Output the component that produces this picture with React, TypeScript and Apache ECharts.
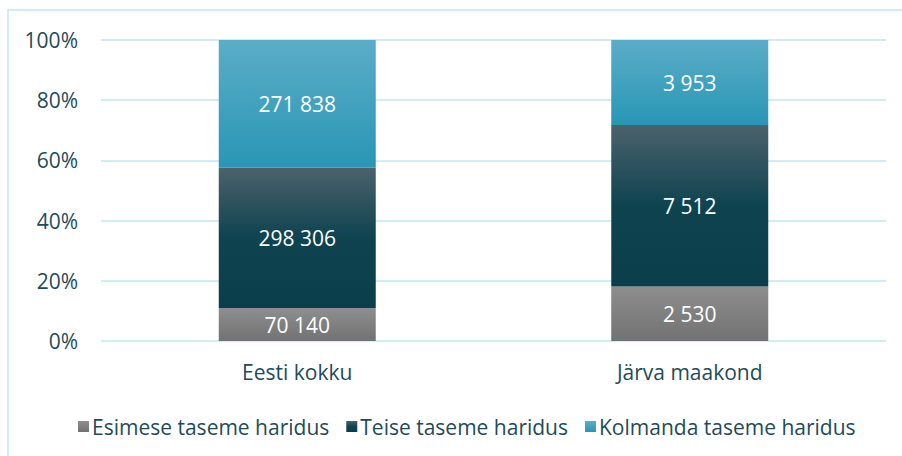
import React, { useEffect, useRef } from "react";
import * as echarts from "echarts";

const categories = ["Eesti kokku", "Järva maakond"];
const seriesNames = ["Esimese taseme haridus", "Teise taseme haridus", "Kolmanda taseme haridus"];
const firstLevel = [70140, 2530];
const secondLevel = [298306, 7512];
const thirdLevel = [271838, 3953];
const yTicks = [0, 20, 40, 60, 80, 100];

const FONT = "Open Sans";
const TEXT = "#1f4b58";

function fmt(n: number): string {
  return String(n).replace(/\B(?=(\d{3})+(?!\d))/g, " ");
}

export default function App() {
  const ref = useRef<HTMLDivElement>(null);
  useEffect(() => {
    if (!ref.current) return;
    const chart = echarts.init(ref.current, undefined, { renderer: "svg" });
    const raw = [firstLevel, secondLevel, thirdLevel];
    const totals = categories.map((_, i) => raw.reduce((s, arr) => s + arr[i], 0));
    const grads = [
      ["#8e8e8e", "#727272"],
      ["#4b626c", "#0e4350", "#0a3e4a"],
      ["#5badc7", "#2996b5"],
    ];
    const mkGrad = (c: string[]) =>
      new echarts.graphic.LinearGradient(
        0, 0, 0, 1,
        c.length === 3
          ? [
              { offset: 0, color: c[0] },
              { offset: 0.5, color: c[1] },
              { offset: 1, color: c[2] },
            ]
          : [
              { offset: 0, color: c[0] },
              { offset: 1, color: c[1] },
            ]
      );
    const series = raw.map((arr, si) => ({
      name: seriesNames[si],
      type: "bar",
      stack: "total",
      barWidth: 157,
      data: arr.map((v, i) => ({ value: (v / totals[i]) * 100 })),
      itemStyle: { color: mkGrad(grads[si]) },
      label: {
        show: true,
        position: "inside",
        color: "#ffffff",
        fontFamily: FONT,
        fontSize: 21,
        formatter: (p: any) => fmt(arr[p.dataIndex]),
      },
    }));
    chart.setOption({
      animation: false,
      backgroundColor: "#ffffff",
      textStyle: { fontFamily: FONT },
      grid: { left: 101, top: 40, width: 785, height: 301, containLabel: false },
      xAxis: {
        type: "category",
        data: categories,
        axisLine: { show: false },
        axisTick: { show: false },
        axisLabel: { color: TEXT, fontFamily: FONT, fontSize: 21, margin: 20 },
      },
      yAxis: {
        type: "value",
        min: 0,
        max: 100,
        interval: 20,
        axisLine: { show: false },
        axisTick: { show: false },
        axisLabel: {
          color: TEXT,
          fontFamily: FONT,
          fontSize: 21,
          margin: 23,
          formatter: (v: number) => (yTicks.includes(v) ? v + "%" : ""),
        },
        splitLine: { lineStyle: { color: "#d2ecf4", width: 2 } },
      },
      legend: {
        left: 73,
        top: 411,
        itemWidth: 11,
        itemHeight: 11,
        itemGap: 17,
        icon: "rect",
        textStyle: { color: TEXT, fontFamily: FONT, fontSize: 21, padding: [0, 0, 0, -2] },
        data: seriesNames,
      },
      graphic: [
        { type: "line", shape: { x1: 7, y1: 10, x2: 902, y2: 10 }, style: { stroke: "#d2ecf4", lineWidth: 2 } },
        { type: "line", shape: { x1: 8, y1: 10, x2: 8, y2: 456 }, style: { stroke: "#d2ecf4", lineWidth: 2 } },
      ],
      series,
    });
    return () => chart.dispose();
  }, []);
  return <div ref={ref} style={{ width: 902, height: 456, position: "absolute", left: 0, top: 0 }} />;
}
